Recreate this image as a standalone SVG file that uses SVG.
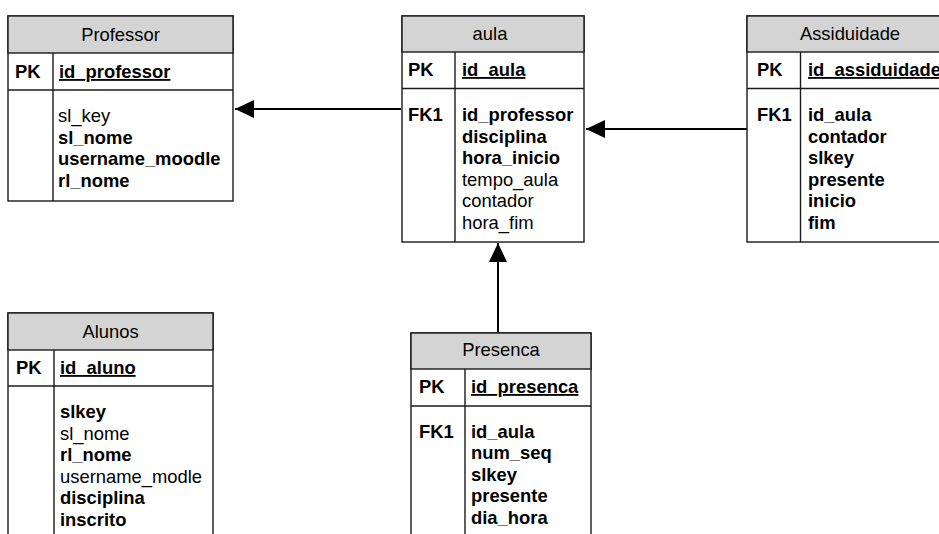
<svg xmlns="http://www.w3.org/2000/svg" width="939" height="534" viewBox="0 0 939 534">
  <style>
    .box { fill: #ffffff; stroke: #1a1a1a; stroke-width: 1.4; }
    .head { fill: #d4d4d4; stroke: #1a1a1a; stroke-width: 1.4; }
    .sep { stroke: #1a1a1a; stroke-width: 1.4; fill: none; }
    text { font-family: "Liberation Sans", Arial, sans-serif; font-size: 18.4px; fill: #000; }
    .title { text-anchor: middle; }
    .b { font-weight: bold; }
    .pk { font-weight: bold; text-decoration: underline; }
    .conn { stroke: #000; stroke-width: 2; fill: none; }
  </style>
  <defs>
    <marker id="arrow" markerUnits="userSpaceOnUse" markerWidth="20" markerHeight="20" viewBox="0 0 20 20" refX="19" refY="10" orient="auto">
      <path d="M0,1 L19,10 L0,19 Z" fill="#000"/>
    </marker>
  </defs>

  <rect width="939" height="534" fill="#ffffff"/>

  <!-- relationships -->
  <g id="connectors">
    <line class="conn" x1="401" y1="109" x2="235" y2="109" marker-end="url(#arrow)"/>
    <line class="conn" x1="747" y1="129" x2="586" y2="129" marker-end="url(#arrow)"/>
    <line class="conn" x1="498" y1="333" x2="498" y2="243" marker-end="url(#arrow)"/>
  </g>

  <!-- Professor table -->
  <g id="professor">
    <rect class="box" x="8" y="16" width="225" height="185"/>
    <rect class="head" x="8" y="16" width="225" height="37"/>
    <line class="sep" x1="8" y1="90" x2="233" y2="90"/>
    <line class="sep" x1="53" y1="53" x2="53" y2="201"/>
    <text class="title" x="120.5" y="41">Professor</text>
    <text class="b" x="15" y="78">PK</text>
    <text class="pk" x="59" y="78">id_professor</text>
    <text x="58" y="122">sl_key</text>
    <text class="b" x="58" y="143.5">sl_nome</text>
    <text class="b" x="58" y="165">username_moodle</text>
    <text class="b" x="58" y="186.5">rl_nome</text>
  </g>

  <!-- aula table -->
  <g id="aula">
    <rect class="box" x="402" y="16" width="182" height="226"/>
    <rect class="head" x="402" y="16" width="182" height="36"/>
    <line class="sep" x1="402" y1="88.5" x2="584" y2="88.5"/>
    <line class="sep" x1="455" y1="52" x2="455" y2="242"/>
    <text class="title" x="490" y="40">aula</text>
    <text class="b" x="408" y="76">PK</text>
    <text class="pk" x="462" y="76">id_aula</text>
    <text class="b" x="408" y="121">FK1</text>
    <text class="b" x="462" y="121">id_professor</text>
    <text class="b" x="462" y="142.5">disciplina</text>
    <text class="b" x="462" y="164">hora_inicio</text>
    <text x="462" y="185.5">tempo_aula</text>
    <text x="462" y="207">contador</text>
    <text x="462" y="228.5">hora_fim</text>
  </g>

  <!-- Assiduidade table -->
  <g id="assiduidade">
    <rect class="box" x="747" y="16" width="206" height="226"/>
    <rect class="head" x="747" y="16" width="206" height="36"/>
    <line class="sep" x1="747" y1="88.5" x2="953" y2="88.5"/>
    <line class="sep" x1="800.5" y1="52" x2="800.5" y2="242"/>
    <text class="title" x="850" y="40">Assiduidade</text>
    <text class="b" x="757" y="76">PK</text>
    <text class="pk" x="808" y="76">id_assiduidade</text>
    <text class="b" x="757" y="121">FK1</text>
    <text class="b" x="808" y="121">id_aula</text>
    <text class="b" x="808" y="142.5">contador</text>
    <text class="b" x="808" y="164">slkey</text>
    <text class="b" x="808" y="185.5">presente</text>
    <text class="b" x="808" y="207">inicio</text>
    <text class="b" x="808" y="228.5">fim</text>
  </g>

  <!-- Alunos table -->
  <g id="alunos">
    <rect class="box" x="8" y="313" width="205" height="250"/>
    <rect class="head" x="8" y="313" width="205" height="37"/>
    <line class="sep" x1="8" y1="386" x2="213" y2="386"/>
    <line class="sep" x1="54" y1="350" x2="54" y2="563"/>
    <text class="title" x="110.5" y="338">Alunos</text>
    <text class="b" x="16" y="374">PK</text>
    <text class="pk" x="60" y="374">id_aluno</text>
    <text class="b" x="60" y="418">slkey</text>
    <text x="60" y="439.5">sl_nome</text>
    <text class="b" x="60" y="461">rl_nome</text>
    <text x="60" y="482.5">username_modle</text>
    <text class="b" x="60" y="504">disciplina</text>
    <text class="b" x="60" y="525.5">inscrito</text>
  </g>

  <!-- Presenca table -->
  <g id="presenca">
    <rect class="box" x="411" y="333" width="180" height="230"/>
    <rect class="head" x="411" y="333" width="180" height="36"/>
    <line class="sep" x1="411" y1="406" x2="591" y2="406"/>
    <line class="sep" x1="465" y1="369" x2="465" y2="563"/>
    <text class="title" x="501" y="356">Presenca</text>
    <text class="b" x="419" y="393">PK</text>
    <text class="pk" x="471" y="393">id_presenca</text>
    <text class="b" x="419" y="437.5">FK1</text>
    <text class="b" x="471" y="437.5">id_aula</text>
    <text class="b" x="471" y="459">num_seq</text>
    <text class="b" x="471" y="480.5">slkey</text>
    <text class="b" x="471" y="502">presente</text>
    <text class="b" x="471" y="523.5">dia_hora</text>
  </g>
</svg>
